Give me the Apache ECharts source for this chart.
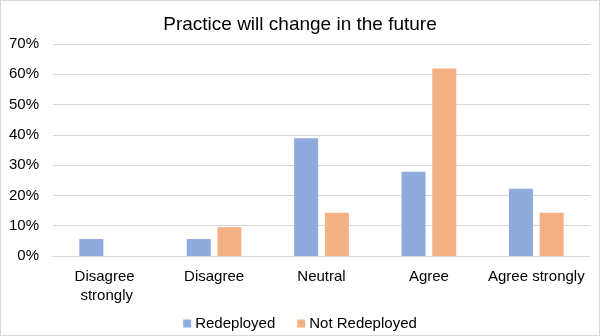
<!DOCTYPE html>
<html>
<head>
<meta charset="utf-8">
<script src="https://cdn.jsdelivr.net/npm/echarts@6/dist/echarts.min.js"></script>
<style>
html,body{margin:0;padding:0;background:#fff;}
#wrap{position:absolute;left:0;top:0;width:598px;height:334px;border:1px solid #d9d9d9;}
#chart{width:598px;height:334px;}
</style>
</head>
<body>
<div id="wrap"><div id="chart"></div></div>
<script>
const categories = ["Disagree strongly", "Disagree", "Neutral", "Agree", "Agree strongly"];
const redeployed = [5.6, 5.6, 38.9, 27.8, 22.2];
const notRedeployed = [0, 9.5, 14.3, 61.9, 14.3];
const seriesNames = ["Redeployed", "Not Redeployed"];
const titleText = "Practice will change in the future";

const chart = echarts.init(document.getElementById('chart'), null, {renderer: 'canvas'});
const font = '"Liberation Sans", Arial, sans-serif';
chart.setOption({
  animation: false,
  title: {
    text: titleText, left: 'center', top: 9,
    textStyle: {fontFamily: font, fontSize: 19, fontWeight: 'normal', color: '#000'}
  },
  grid: {left: 52, right: 9, top: 43, bottom: 79, containLabel: false},
  legend: {
    data: seriesNames, top: 310, left: 'center',
    itemWidth: 8, itemHeight: 8, itemGap: 22, icon: 'rect',
    textStyle: {fontFamily: font, fontSize: 15, color: '#000', padding: [0,0,0,-1]}
  },
  xAxis: {
    type: 'category', data: categories,
    axisLine: {lineStyle: {color: '#d9d9d9', width: 1}},
    axisTick: {show: false},
    axisLabel: {fontFamily: font, fontSize: 15, color: '#000', margin: 11, lineHeight: 19,
      width: 104, overflow: 'break', interval: 0}
  },
  yAxis: {
    type: 'value', min: 0, max: 70, interval: 10,
    axisLine: {show: false}, axisTick: {show: false},
    splitLine: {lineStyle: {color: '#d9d9d9', width: 1}},
    axisLabel: {fontFamily: font, fontSize: 15, color: '#000', margin: 14, formatter: '{value}%'}
  },
  series: [
    {name: seriesNames[0], type: 'bar', data: redeployed, barWidth: 24, barGap: '28%',
      itemStyle: {color: '#8faadc'}},
    {name: seriesNames[1], type: 'bar', data: notRedeployed, barWidth: 24,
      itemStyle: {color: '#f4b183'}}
  ]
});
</script>
</body>
</html>
